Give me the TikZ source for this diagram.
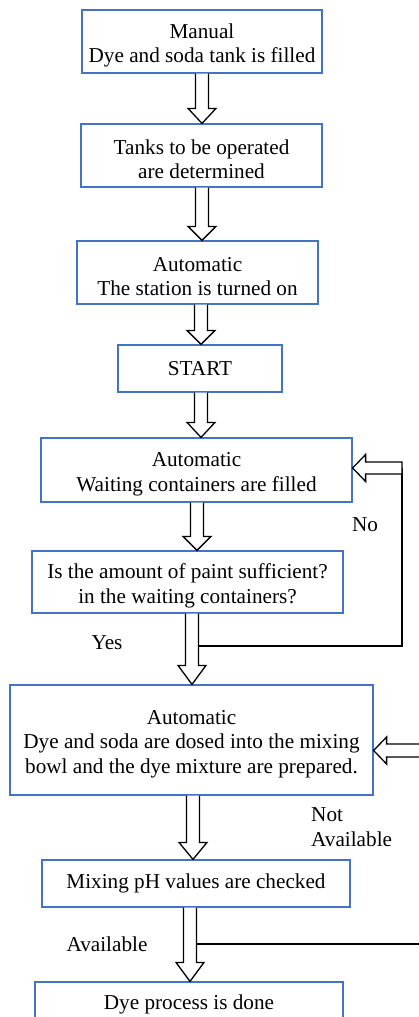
\documentclass[tikz,border=0pt]{standalone}
\usepackage{fontspec}
\setmainfont{Liberation Serif}
\usetikzlibrary{calc}
\definecolor{boxblue}{RGB}{68,114,196}
\tikzset{
  stepbox/.style={draw=boxblue, line width=1.2pt, fill=white, inner sep=0pt, align=center,
    font=\fontsize{21.2}{24.7}\selectfont},
  barrow/.style={draw=black, line width=1.3pt, fill=white, line join=miter},
  fbline/.style={draw=black, line width=1.3pt},
  lbl/.style={inner sep=0pt, font=\fontsize{21.2}{24.7}\selectfont}
}
\newcommand\tp{\rule{0pt}{22.5pt}}
\newcommand\dnarrow[4]{%
  \draw[barrow] let \p1=(#2.south), \p2=(#3.north) in
    ({#1-6.5},\y1) -- ({#1-6.5},{\y2+#4}) -- ({#1-14},{\y2+#4}) -- (#1,\y2)
    -- ({#1+14},{\y2+#4}) -- ({#1+6.5},{\y2+#4}) -- ({#1+6.5},\y1);
}
\begin{document}
\begin{tikzpicture}[x=1pt,y=1pt]
\path[use as bounding box] (0,0) rectangle (419,-1017);
\clip (0,0) rectangle (419,-1017);
% boxes
\node[stepbox, minimum width=240pt, minimum height=63pt] (b1) at (202,-41.5) {\tp Manual\\Dye and soda tank is filled};
\node[stepbox, minimum width=241pt, minimum height=63pt] (b2) at (201.5,-155.5) {\tp Tanks to be operated\\are determined};
\node[stepbox, minimum width=241pt, minimum height=63pt] (b3) at (197.5,-272.5) {\tp Automatic\\The station is turned on};
\node[stepbox, minimum width=164pt, minimum height=47pt] (b4) at (200,-368.5) {START};
\node[stepbox, minimum width=311pt, minimum height=64pt] (b5) at (196.5,-470) {\tp Automatic\\Waiting containers are filled};
\node[stepbox, minimum width=311pt, minimum height=62pt] (b6) at (187.5,-582) {\tp Is the amount of paint sufficient?\\ in the waiting containers?};
\node[stepbox, minimum width=363pt, minimum height=110pt] (b7) at (191.5,-740) {\tp Automatic\\Dye and soda are dosed into the mixing\\bowl and the dye mixture are prepared.};
\node[stepbox, minimum width=308pt, minimum height=47pt] (b8) at (196,-883.5) {Mixing pH values are checked};
\node[stepbox, minimum width=308pt, minimum height=44pt] (b9) at (189,-1004) {Dye process is done};
% down arrows
\dnarrow{202}{b1}{b2}{15}
\dnarrow{202}{b2}{b3}{14}
\dnarrow{201}{b3}{b4}{14}
\dnarrow{201}{b4}{b5}{15}
\dnarrow{197}{b5}{b6}{14}
\dnarrow{192}{b6}{b7}{19}
\dnarrow{193}{b7}{b8}{17}
\dnarrow{190}{b8}{b9}{19}
% feedback 1 (No)
\coordinate (fb1) at (198.5,-646);
\coordinate (fbr) at (402,-468);
\draw[fbline] (fb1) -- (fb1 -| fbr) -- (fbr);
\draw[barrow] let \p1=(fbr), \p2=(b5.east) in
  (\x1,{\y1+6}) -- ({\x2+13},{\y1+6}) -- ({\x2+13},{\y1+13.5}) -- (\x2,\y1)
  -- ({\x2+13},{\y1-13.5}) -- ({\x2+13},{\y1-6}) -- (\x1,{\y1-6}) -- cycle;
% feedback 2 (Not Available)
\coordinate (fb2) at (440,-750.5);
\draw[barrow] let \p1=(fb2), \p2=(b7.east) in
  (\x1,{\y1+6.5}) -- ({\x2+13},{\y1+6.5}) -- ({\x2+13},{\y1+13.5}) -- (\x2,\y1)
  -- ({\x2+13},{\y1-13.5}) -- ({\x2+13},{\y1-6.5}) -- (\x1,{\y1-6.5});
\coordinate (fb3) at (196.5,-944);
\coordinate (fb3r) at (440,-944);
\draw[fbline] (fb3) -- (fb3r);
% labels
\node[lbl] (no) at (365,-525) {No};
\node[lbl] (yes) at (107,-643) {Yes};
\node[lbl, anchor=west, align=left] (na) at (311,-827.5) {Not\\Available};
\node[lbl] (av) at (107,-944) {Available};
\end{tikzpicture}
\end{document}
